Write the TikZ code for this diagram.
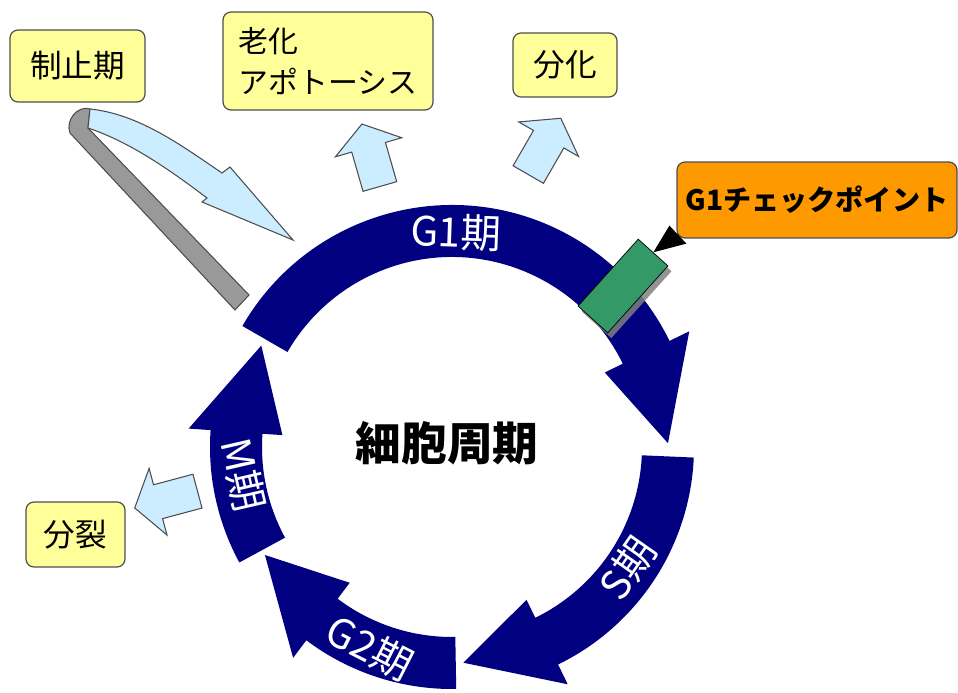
\documentclass[tikz,border=0pt]{standalone}
\usepackage{fontspec}
\setmainfont{Noto Sans CJK JP}
\usepackage{tikz}
\usetikzlibrary{shapes.arrows,calc,shadows,positioning}
\definecolor{cycleblue}{HTML}{000080}
\definecolor{fateyellow}{HTML}{FFFF99}
\definecolor{arrowblue}{HTML}{CCECFF}
\definecolor{chkgreen}{HTML}{339966}
\definecolor{chkorange}{HTML}{FF9900}
\definecolor{boxline}{HTML}{4D4D4D}
\definecolor{ribbongray}{HTML}{999999}
\tikzset
{
    fatebox/.style    = {draw=boxline, fill=fateyellow, rounded corners=0.16cm, line width=0.7pt, align=center, font=\fontsize{18pt}{22pt}\selectfont},
    fatearrow/.style  = {single arrow, draw=boxline, fill=arrowblue, line width=0.6pt, inner sep=0.34cm, single arrow head extend=0.34cm, single arrow tip angle=110, minimum height=1.3cm, anchor=tail},
    phaselabel/.style = {text=white, font=\fontsize{23pt}{26pt}\selectfont},
    phasearc/.style   = {fill=cycleblue}
}
\newcommand{\phasearrow}[3]{%
    \fill[phasearc] ($(C)+(#1:242)$) arc[start angle=#1, end angle=#2, radius=242]
        -- ($(C)+(#2:264)$) -- ($(C)+(#3:216)$) -- ($(C)+(#2:170)$)
        -- ($(C)+(#2:190)$) arc[start angle=#2, end angle=#1, radius=190] -- cycle;}

\begin{document}
\begin{tikzpicture}[x=0.02cm, y=-0.02cm]
    \useasboundingbox (0,0) rectangle (958,693);
    \coordinate (C) at (452,447);

    \phasearrow{-150}{-26}{-1}
    \phasearrow{2.5}{64}{87}
    \phasearrow{89}{127}{150}
    \phasearrow{151.5}{184}{208}

    \node [phaselabel, rotate=-2] (g1) at (456,232) {G1期};
    \node [phaselabel, rotate=55] (s) at (628,568) {S期};
    \node [phaselabel, rotate=-27] (g2) at (370,648) {G2期};
    \node [phaselabel, rotate=-77] (m) at (243,475) {M期};
    \node [font=\bfseries\fontsize{26pt}{30pt}\selectfont] (cellcycle) at (447,443) {細胞周期};

    \node [draw=black, fill=chkgreen, minimum width=1.8cm, minimum height=0.8cm, rotate=48,
           drop shadow={opacity=0.85, shadow xshift=2pt, shadow yshift=-3pt}] (chk) at (623,286) {};

    \node [fatebox] (arrest) at (77.5,66) [minimum width=2.7cm, minimum height=1.44cm] {制止期};
    \node [fatebox, align=left, font=\fontsize{17pt}{23pt}\selectfont] (aging) at (328,61) [minimum width=4.2cm, minimum height=1.96cm] {老化\\アポトーシス};
    \node [fatebox] (diff) at (565,65) [minimum width=2.08cm, minimum height=1.28cm] {分化};
    \node [fatebox] (div) at (75.5,534.5) [minimum width=1.98cm, minimum height=1.3cm] {分裂};
    \node [draw=boxline, fill=chkorange, rounded corners=0.16cm, line width=0.7pt, font=\bfseries\fontsize{16pt}{20pt}\selectfont,
           minimum width=5.6cm, minimum height=1.52cm] (gcp) at (817,200) {G1チェックポイント};

    \fill[black] ($(gcp.south west)+(-7,-13)$) -- ($(gcp.south west)+(10,5)$) -- (chk.east) -- cycle;

    \node [fatearrow, rotate=106] (toaging) at (380,187) {};
    \node [fatearrow, rotate=60] (todiff) at (528,175) {};
    \node [fatearrow, rotate=195] (todiv) at (198,491) {};

    \filldraw[draw=boxline, fill=ribbongray, line width=0.6pt] (249,295) -- (88,128) -- (90,109)
        .. controls (78,105) and (65,120) .. (70,133) -- (235,310) -- cycle;
    \filldraw[draw=boxline, fill=arrowblue, line width=0.6pt] (90,109) .. controls (140,114) and (185,148) .. (222,173)
        -- (230,167) -- (293,240) -- (202,202) -- (207,198) .. controls (170,170) and (130,142) .. (88,128) -- cycle;
\end{tikzpicture}
\end{document}
